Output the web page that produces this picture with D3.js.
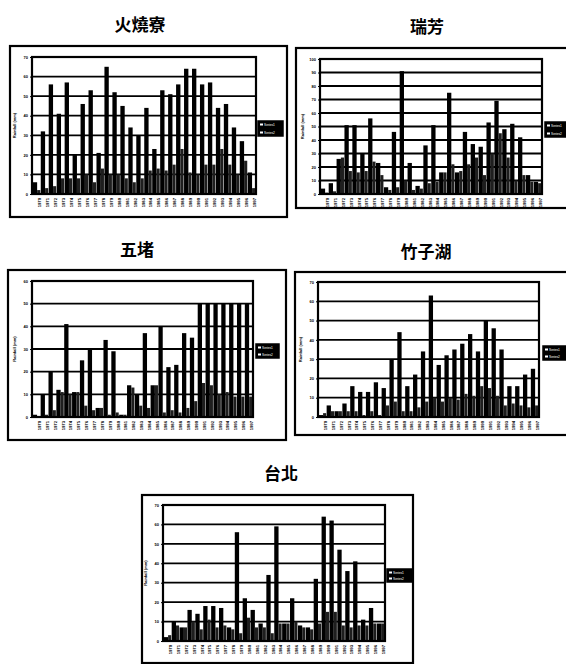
<!DOCTYPE html>
<html>
<head>
<meta charset="utf-8">
<script src="https://cdn.jsdelivr.net/npm/d3@7"></script>
<style>
  body { margin: 0; background: #fff; }
  svg { display: block; }
  text { font-family: 'Liberation Sans', Arial, sans-serif; }
  .title { font-family: 'Noto Sans CJK TC', sans-serif; font-weight: 700; font-size: 17px; }
</style>
</head>
<body>
<svg id="chart" width="566" height="664"></svg>
<script>
// x categories (years, too small to read in the scan)
const categories = ['1970', '1971', '1972', '1973', '1974', '1975', '1976', '1977', '1978', '1979',
  '1980', '1981', '1982', '1983', '1984', '1985', '1986', '1987', '1988', '1989',
  '1990', '1991', '1992', '1993', '1994', '1995', '1996', '1997'];
const seriesNames = ['Series1', 'Series2'];

const ticks60 = [0, 10, 20, 30, 40, 50, 60];
const ticks70 = [0, 10, 20, 30, 40, 50, 60, 70];
const ticks100 = [0, 10, 20, 30, 40, 50, 60, 70, 80, 90, 100];

const huoshaoliaoMain = [6, 32, 56, 41, 57, 20, 46, 53, 21, 65, 52, 45, 34, 30, 44, 23, 53, 51, 56, 64, 64, 56, 57, 44, 46, 34, 27, 11];
const huoshaoliaoSub = [2, 3, 4, 8, 8, 8, 10, 6, 13, 10, 10, 8, 6, 8, 12, 13, 12, 15, 23, 11, 10, 15, 15, 23, 15, 10, 17, 3];
const ruifangMain = [4, 8, 26, 51, 51, 30, 56, 23, 5, 46, 91, 23, 6, 36, 51, 16, 75, 16, 46, 37, 35, 53, 69, 48, 52, 42, 14, 9];
const ruifangSub = [1, 2, 27, 17, 16, 17, 24, 14, 3, 5, 10, 3, 4, 8, 9, 16, 22, 17, 22, 27, 14, 30, 45, 27, 10, 14, 9, 8];
const wuduMain = [1, 10, 20, 12, 41, 11, 25, 30, 4, 34, 29, 1, 14, 10, 37, 14, 40, 22, 23, 37, 35, 50, 50, 50, 50, 50, 50, 50];
const wuduSub = [0, 1, 3, 11, 10, 11, 5, 3, 4, 1, 2, 1, 13, 5, 4, 14, 2, 3, 2, 4, 7, 15, 14, 10, 11, 9, 9, 9];
const zhuzihuMain = [1, 6, 3, 7, 16, 13, 13, 18, 15, 30, 44, 16, 22, 34, 63, 27, 32, 35, 38, 43, 34, 50, 46, 35, 16, 16, 22, 25];
const zhuzihuSub = [2, 3, 3, 3, 3, 1, 3, 1, 6, 8, 3, 3, 5, 8, 10, 8, 10, 9, 12, 11, 16, 15, 11, 6, 7, 6, 5, 6];
const taipeiMain = [2, 10, 7, 16, 14, 18, 18, 17, 7, 56, 22, 16, 9, 34, 59, 9, 22, 8, 7, 32, 64, 62, 47, 36, 41, 11, 17, 9];
const taipeiSub = [3, 8, 7, 10, 6, 11, 7, 8, 6, 4, 12, 7, 7, 4, 9, 9, 10, 7, 6, 9, 15, 15, 8, 7, 8, 8, 9, 9];

const panels = [
  { title: '火燒寮', main: huoshaoliaoMain, sub: huoshaoliaoSub, yTicks: ticks70,
    frame: [10, 46, 277, 171], plot: [32, 57, 224, 137], legend: [258, 121, 25, 15], titleAt: [140, 23] },
  { title: '瑞芳', main: ruifangMain, sub: ruifangSub, yTicks: ticks100,
    frame: [296, 48, 272, 160], plot: [320, 59, 222, 135], legend: [545, 122, 22, 15], titleAt: [427, 25] },
  { title: '五堵', main: wuduMain, sub: wuduSub, yTicks: ticks60,
    frame: [8, 270, 278, 170], plot: [32, 281, 221, 136], legend: [256, 344, 23, 14], titleAt: [137, 248] },
  { title: '竹子湖', main: zhuzihuMain, sub: zhuzihuSub, yTicks: ticks70,
    frame: [295, 272, 273, 163], plot: [318, 282, 221, 135], legend: [543, 346, 23, 14], titleAt: [426, 250] },
  { title: '台北', main: taipeiMain, sub: taipeiSub, yTicks: ticks70,
    frame: [142, 495, 271, 168], plot: [163, 505, 222, 136], legend: [387, 569, 25, 13], titleAt: [281, 472] }
];

const svg = d3.select('#chart');

function drawPanel (p) {
  let g = svg.append('g');
  let left = p.plot[0];
  let top = p.plot[1];
  let right = left + p.plot[2];
  let bottom = top + p.plot[3];

  g.append('text')
    .attr('class', 'title')
    .attr('x', p.titleAt[0])
    .attr('y', p.titleAt[1])
    .attr('text-anchor', 'middle')
    .attr('dominant-baseline', 'central')
    .text(p.title);

  g.append('rect')
    .attr('x', p.frame[0])
    .attr('y', p.frame[1])
    .attr('width', p.frame[2])
    .attr('height', p.frame[3])
    .attr('fill', 'none')
    .attr('stroke', '#000')
    .attr('stroke-width', 2.2);

  let x = d3.scaleBand()
    .domain(categories)
    .range([left, right])
    .paddingInner(0.06)
    .paddingOuter(0.1);
  let xs = d3.scaleBand()
    .domain(['main', 'sub'])
    .range([0, x.bandwidth()]);
  let y = d3.scaleLinear()
    .domain([0, d3.max(p.yTicks)])
    .range([bottom, top]);

  // grid
  g.selectAll('line.grid')
    .data(p.yTicks)
    .join('line')
    .attr('class', 'grid')
    .attr('x1', left)
    .attr('x2', right)
    .attr('y1', d => y(d))
    .attr('y2', d => y(d))
    .attr('stroke', '#000')
    .attr('stroke-width', 1.8);

  let rows = categories.map((c, i) => ({ cat: c, main: p.main[i], sub: p.sub[i] }));
  g.selectAll('rect.main')
    .data(rows)
    .join('rect')
    .attr('class', 'main')
    .attr('x', d => x(d.cat) + xs('main'))
    .attr('width', xs.bandwidth() + 0.6)
    .attr('y', d => y(d.main))
    .attr('height', d => bottom - y(d.main))
    .attr('fill', '#000');
  g.selectAll('rect.sub')
    .data(rows)
    .join('rect')
    .attr('class', 'sub')
    .attr('x', d => x(d.cat) + xs('sub') + 0.6)
    .attr('width', xs.bandwidth() - 0.6)
    .attr('y', d => y(d.sub))
    .attr('height', d => bottom - y(d.sub))
    .attr('fill', '#1e1e1e');

  g.append('rect')
    .attr('x', left)
    .attr('y', top)
    .attr('width', right - left)
    .attr('height', bottom - top)
    .attr('fill', 'none')
    .attr('stroke', '#000')
    .attr('stroke-width', 2.2);

  // y axis
  let yAxis = g.append('g')
    .attr('transform', `translate(${left},0)`)
    .call(d3.axisLeft(y).tickValues(p.yTicks).tickSize(2).tickPadding(2));
  yAxis.select('.domain').remove();
  yAxis.selectAll('text').attr('font-size', 4).attr('font-weight', 700);

  g.append('text')
    .attr('transform', `translate(${left - 16},${(top + bottom) / 2}) rotate(-90)`)
    .attr('text-anchor', 'middle')
    .attr('font-size', 4)
    .attr('font-weight', 700)
    .text('Rainfall (mm)');

  // x axis
  let xAxis = g.append('g')
    .attr('transform', `translate(0,${bottom})`)
    .call(d3.axisBottom(x).tickSize(0));
  xAxis.select('.domain').remove();
  xAxis.selectAll('text')
    .attr('font-size', 4.2)
    .attr('font-weight', 700)
    .attr('text-anchor', 'end')
    .attr('dy', 0)
    .attr('transform', 'translate(0,4) rotate(-90)')
    .attr('dominant-baseline', 'central');

  // legend
  let lg = g.append('g');
  lg.append('rect')
    .attr('x', p.legend[0])
    .attr('y', p.legend[1])
    .attr('width', p.legend[2])
    .attr('height', p.legend[3])
    .attr('fill', '#000')
    .attr('stroke', '#000')
    .attr('stroke-width', 1.5);
  seriesNames.forEach((name, i) => {
    let ry = p.legend[1] + 3.5 + i * (p.legend[3] - 7);
    lg.append('rect')
      .attr('x', p.legend[0] + 2)
      .attr('y', ry - 1)
      .attr('width', 3)
      .attr('height', 2)
      .attr('fill', '#fff');
    lg.append('text')
      .attr('x', p.legend[0] + 6)
      .attr('y', ry)
      .attr('dominant-baseline', 'central')
      .attr('font-size', 3.2)
      .attr('fill', '#fff')
      .text(name);
  });
}

panels.forEach(drawPanel);
</script>
</body>
</html>
